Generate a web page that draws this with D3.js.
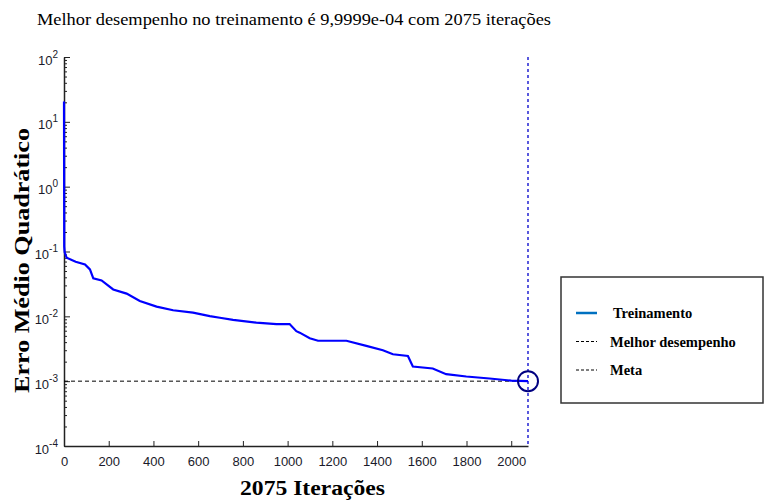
<!DOCTYPE html>
<html lang="pt">
<head>
<meta charset="UTF-8" />
<title>Desempenho</title>
<style>
  * { margin: 0; padding: 0; }
  body { background: #fff; }
  .tick text { font-family: 'Liberation Sans', Arial, sans-serif; font-size: 13px; fill: #1a1a2a; }
</style>
</head>
<body>
<svg id="chart" width="765" height="500"></svg>
<script src="https://d3js.org/d3.v7.min.js"></script>
<script>
// dados
const iteracoes = [0, 1, 3, 12, 52, 94, 116, 131, 168, 220, 280, 339, 414, 488, 577, 652, 697, 756, 860, 950, 1009, 1039, 1054, 1099, 1136, 1263, 1352, 1426, 1471, 1538, 1560, 1649, 1709, 1799, 1903, 2000, 2075];
const erro = [20.5, 0.12, 0.097, 0.08, 0.0695, 0.063, 0.053, 0.0385, 0.0358, 0.026, 0.0224, 0.0172, 0.0141, 0.0124, 0.0114, 0.0101, 0.0095, 0.0088, 0.008, 0.0076, 0.0076, 0.0059, 0.0056, 0.0046, 0.0042, 0.0042, 0.0035, 0.003, 0.0026, 0.00245, 0.00168, 0.00157, 0.00128, 0.00118, 0.0011, 0.00102, 0.00099999];
const meta = 1e-3;
const melhorIter = 2075;
const melhorErro = 9.9999e-4;
const xTicks = [0, 200, 400, 600, 800, 1000, 1200, 1400, 1600, 1800, 2000];
const yExpoentes = [2, 1, 0, -1, -2, -3, -4];
const legenda = ['Treinamento', 'Melhor desempenho', 'Meta'];

const SERIF = "'Liberation Serif', 'Times New Roman', Times, serif";
const svg = d3.select('#chart');
const mLeft = 64, mRight = 528, mTop = 57, mBottom = 446;

const x = d3.scaleLinear().domain([0, 2075]).range([mLeft, mRight]);
const y = d3.scaleLog().domain([1e-4, 1e2]).range([mBottom, mTop]);

// ticks menores do eixo y
let minor = [];
for (let e = -4; e < 2; e++) {
  for (let m = 2; m <= 9; m++) minor.push(m * Math.pow(10, e));
}

svg.append('g')
  .attr('transform', `translate(${mLeft},0)`)
  .call(d3.axisLeft(y).tickValues(minor).tickSize(-3).tickFormat(''))
  .call(g => g.select('.domain').remove())
  .selectAll('line').attr('stroke', '#222');

const yAxis = svg.append('g')
  .attr('transform', `translate(${mLeft},0)`)
  .call(d3.axisLeft(y).tickValues(yExpoentes.map(e => Math.pow(10, e))).tickSizeInner(-6).tickSizeOuter(0).tickFormat(''));
yAxis.select('.domain').attr('stroke', '#222').attr('stroke-width', 1.5);
yAxis.selectAll('.tick line').attr('stroke', '#222');
yAxis.selectAll('.tick').each(function (d) {
  const t = d3.select(this).append('text')
    .attr('x', -6).attr('y', 7).attr('text-anchor', 'end');
  t.append('tspan').text('10');
  t.append('tspan').attr('dy', -7).attr('font-size', 10).text(Math.round(Math.log10(d)));
});

const xAxis = svg.append('g')
  .attr('transform', `translate(0,${mBottom})`)
  .call(d3.axisBottom(x).tickValues(xTicks).tickFormat(d3.format('d'))
    .tickSizeInner(-5).tickSizeOuter(0).tickPadding(11));
xAxis.select('.domain').attr('stroke', '#222').attr('stroke-width', 1.5);
xAxis.selectAll('.tick line').attr('stroke', '#222');

// meta
svg.append('line')
  .attr('x1', x(0)).attr('x2', x(2075))
  .attr('y1', y(meta)).attr('y2', y(meta))
  .attr('stroke', '#000').attr('stroke-dasharray', '4,3');

// melhor desempenho
svg.append('line')
  .attr('x1', x(melhorIter)).attr('x2', x(melhorIter))
  .attr('y1', y(1e2)).attr('y2', y(1e-4))
  .attr('stroke', '#0000cc').attr('stroke-width', 1.3).attr('stroke-dasharray', '3,3');

const linha = d3.line()
  .x((d, i) => x(iteracoes[i]))
  .y(d => y(d));

svg.append('path')
  .datum(erro)
  .attr('d', linha)
  .attr('fill', 'none')
  .attr('stroke', '#0000ff')
  .attr('stroke-width', 2.2);

svg.append('circle')
  .attr('cx', x(melhorIter)).attr('cy', y(melhorErro)).attr('r', 10)
  .attr('fill', 'none').attr('stroke', '#000080').attr('stroke-width', 2);

// textos
svg.append('text')
  .style('font-family', SERIF)
  .attr('x', 37).attr('y', 25)
  .attr('font-size', 16)
  .attr('textLength', 514).attr('lengthAdjust', 'spacingAndGlyphs')
  .text('Melhor desempenho no treinamento é 9,9999e-04 com 2075 iterações');

svg.append('text')
  .style('font-family', SERIF)
  .attr('x', 240).attr('y', 495)
  .attr('font-size', 20).attr('font-weight', 'bold')
  .attr('textLength', 145).attr('lengthAdjust', 'spacingAndGlyphs')
  .text('2075 Iterações');

svg.append('text')
  .style('font-family', SERIF)
  .attr('transform', 'translate(29,393) rotate(-90)')
  .attr('font-size', 21).attr('font-weight', 'bold')
  .attr('textLength', 265).attr('lengthAdjust', 'spacingAndGlyphs')
  .text('Erro Médio Quadrático');

// legenda
const leg = svg.append('g');
leg.append('rect')
  .attr('x', 561).attr('y', 277).attr('width', 202).attr('height', 126)
  .attr('fill', '#fff').attr('stroke', '#333').attr('stroke-width', 1.5);

const estilos = [
  { cor: '#0070c0', w: 2.5, dash: null, tx: 613 },
  { cor: '#000', w: 1, dash: '3,2', tx: 610 },
  { cor: '#000', w: 1, dash: '3,2', tx: 610 }
];
const ly = d3.scalePoint().domain(legenda).range([313, 370]);
legenda.forEach((nome, i) => {
  const s = estilos[i];
  leg.append('line')
    .attr('x1', 576).attr('x2', 597)
    .attr('y1', ly(nome)).attr('y2', ly(nome))
    .attr('stroke', s.cor).attr('stroke-width', s.w)
    .attr('stroke-dasharray', s.dash);
  leg.append('text')
    .style('font-family', SERIF)
    .attr('x', s.tx).attr('y', ly(nome) + 5)
    .attr('font-size', 14.5).attr('font-weight', 'bold')
    .text(nome);
});
</script>
</body>
</html>
